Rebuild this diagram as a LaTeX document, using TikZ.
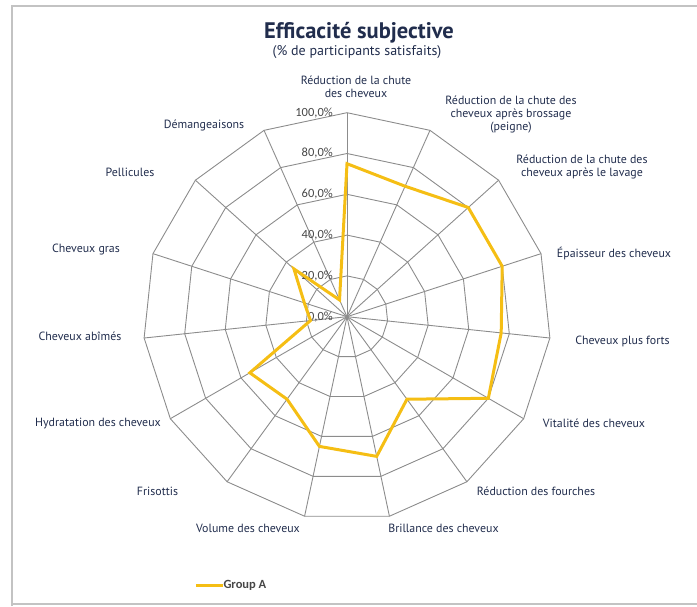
\documentclass[tikz,border=0pt]{standalone}
\usepackage{fontspec}
\setmainfont{PT Sans}[BoldFont={PT Sans Bold}]
\newfontfamily\chartfont{Carlito}
\definecolor{navy}{RGB}{33,45,77}
\definecolor{gridgray}{RGB}{140,140,140}
\definecolor{gold}{RGB}{245,190,20}
\definecolor{framegray}{RGB}{195,195,195}
\definecolor{scalegray}{RGB}{70,70,70}

\begin{document}
\begin{tikzpicture}[x=1pt,y=1pt]
	\tikzstyle{category}=[text=navy,font=\fontsize{11.9}{13}\selectfont,align=center,inner sep=0pt]
	\tikzstyle{scalelabel}=[text=scalegray,font=\chartfont\fontsize{12.5}{13}\selectfont,anchor=east,inner sep=0pt]
	\tikzstyle{grid}=[draw=gridgray,line width=0.9pt]
	\tikzstyle{serie}=[draw=gold,line width=3pt,line join=miter]
	\useasboundingbox (0,0) rectangle (697,606);

	% frame
	\draw[framegray,line width=2pt] (12,0) -- (12,600) -- (700,600);
	\draw[framegray,line width=1.5pt] (12,2) -- (700,2);

	% title
	\node[text=navy,font=\bfseries\fontsize{22.5}{26}\selectfont] (title) at (359,573) {Efficacité subjective};
	\node[text=navy,font=\fontsize{14}{16}\selectfont] (subtitle) at (357,554) {(\% de participants satisfaits)};

	\begin{scope}[shift={(347,289.3)}]
		% rings and spokes
		\foreach \r in {40.8,81.6,122.4,163.2,204}
			\draw[grid] (90:\r) \foreach \k in {1,...,14}{ -- (90-24*\k:\r)} -- cycle;
		\foreach \k in {0,...,14}
			\draw[grid] (0,0) -- (90-24*\k:204);
		\foreach \p in {0,20,40,60,80,100}
			\node[scalelabel] (s\p) at (-14,2.04*\p) {\p,0\%};

		% Group A
		\foreach \v [count=\k from 0] in {75,70,80,80,76,80,50,70,65,50,55,18,22,35,9}
			\coordinate (d\k) at (90-24*\k:2.04*\v);
		\path[serie] (d0) -- (d1) -- (d2) -- (d3) -- (d4) -- (d5) -- (d6) -- (d7)
			-- (d8) -- (d9) -- (d10) -- (d11) -- (d12) -- (d13) -- (d14) -- cycle;
	\end{scope}

	\node[category] (c0) at (356,518.8) {Réduction de la chute\\des cheveux};
	\node[category] (c1) at (511,491) {Réduction de la chute des\\cheveux après brossage\\(peigne)};
	\node[category] (c2) at (582,439.3) {Réduction de la chute des\\cheveux après le lavage};
	\node[category] (c3) at (614,352.7) {Épaisseur des cheveux};
	\node[category] (c4) at (622.5,264.3) {Cheveux plus forts};
	\node[category] (c5) at (594,182.7) {Vitalité des cheveux};
	\node[category] (c6) at (536,115) {Réduction des fourches};
	\node[category] (c7) at (443.5,77.7) {Brillance des cheveux};
	\node[category] (c8) at (248,77.7) {Volume des cheveux};
	\node[category] (c9) at (157.5,115) {Frisottis};
	\node[category] (c10) at (98,182) {Hydratation des cheveux};
	\node[category] (c11) at (80,269.3) {Cheveux abîmés};
	\node[category] (c12) at (86,356) {Cheveux gras};
	\node[category] (c13) at (130,433.7) {Pellicules};
	\node[category] (c14) at (204,481) {Démangeaisons};

	% legend
	\coordinate (legA) at (196,21);
	\node[text=scalegray,font=\chartfont\bfseries\fontsize{12.5}{14}\selectfont,anchor=west,inner sep=0pt] (leg) at (223.3,21) {Group A};
	\path[serie] (legA) -- (leg.west);
\end{tikzpicture}
\end{document}
